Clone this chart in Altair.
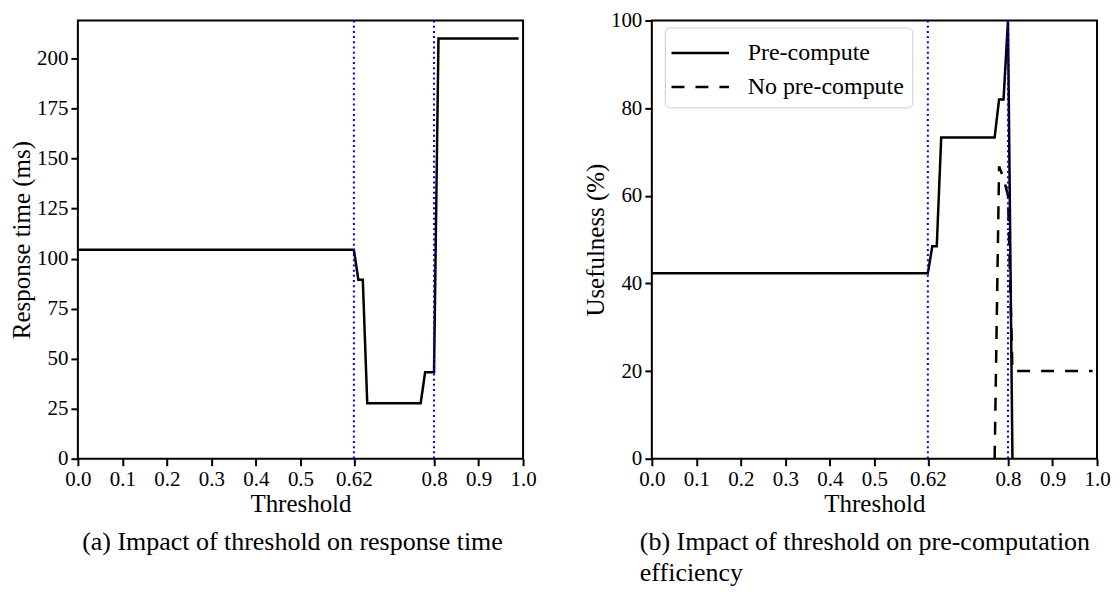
import altair as alt
import pandas as pd

FONT = "Liberation Serif"

# ---- data ----
# (a) response time vs threshold
rt_threshold = [0.0, 0.62, 0.63, 0.64, 0.65, 0.77, 0.78, 0.80, 0.81, 0.99]
rt_ms = [104.4, 104.4, 89.4, 89.4, 27.7, 27.7, 43.2, 43.2, 210.0, 210.0]

# (b) usefulness vs threshold
pre_threshold = [0.0, 0.62, 0.63, 0.64, 0.65, 0.77, 0.78, 0.79, 0.80, 0.81]
pre_usefulness = [42.3, 42.3, 48.5, 48.5, 73.3, 73.3, 82.0, 82.0, 100.0, 0.0]
nopre_threshold = [0.77, 0.78, 0.79, 0.80, 0.81, 0.99]
nopre_usefulness = [0.0, 66.7, 64.0, 60.0, 20.0, 20.0]

series_names = ["Pre-compute", "No pre-compute"]
marker_thresholds = [0.62, 0.8]

x_ticks = [0.0, 0.1, 0.2, 0.3, 0.4, 0.5, 0.62, 0.8, 0.9, 1.0]
rt_ticks = [0, 25, 50, 75, 100, 125, 150, 175, 200]
use_ticks = [0, 20, 40, 60, 80, 100]

caption_a = "(a) Impact of threshold on response time"
caption_b = ["(b) Impact of threshold on pre-computation", "efficiency"]

# ---- tables ----
rt_df = pd.DataFrame({"threshold": rt_threshold, "value": rt_ms})
use_df = pd.concat([
    pd.DataFrame({"threshold": pre_threshold, "value": pre_usefulness,
                  "series": series_names[0]}),
    pd.DataFrame({"threshold": nopre_threshold, "value": nopre_usefulness,
                  "series": series_names[1]}),
], ignore_index=True)
marker_df = pd.DataFrame({"threshold": marker_thresholds})

W, H = 446, 439

label_expr = "datum.value == 0.62 ? '0.62' : format(datum.value, '.1f')"

def x_enc():
    return alt.X("threshold:Q",
                  scale=alt.Scale(domain=[0, 1], nice=False, zero=False),
                  axis=alt.Axis(values=x_ticks, labelExpr=label_expr,
                                title="Threshold"))

def markers():
    return alt.Chart(marker_df).mark_rule(
        color="#0000ff", strokeDash=[2, 3.2], strokeWidth=2
    ).encode(x=alt.X("threshold:Q"))

# (a)
left_line = alt.Chart(rt_df).mark_line(color="black", strokeWidth=2.5).encode(
    x=x_enc(),
    y=alt.Y("value:Q", scale=alt.Scale(domain=[0, 219], nice=False),
            axis=alt.Axis(values=rt_ticks, title="Response time (ms)")),
)
left = alt.layer(left_line, markers()).properties(
    width=W, height=H,
    title=alt.TitleParams(text=caption_a, orient="bottom", anchor="middle",
                          frame="group", font=FONT, fontSize=26,
                          fontWeight="normal", color="black", offset=12,
                          dx=-8),
)

# (b)
right_line = alt.Chart(use_df).mark_line(color="black", strokeWidth=2.5).encode(
    x=x_enc(),
    y=alt.Y("value:Q", scale=alt.Scale(domain=[0, 100], nice=False),
            axis=alt.Axis(values=use_ticks, title="Usefulness (%)")),
    strokeDash=alt.StrokeDash(
        "series:N",
        scale=alt.Scale(domain=series_names, range=[[1, 0], [13, 11]]),
        legend=alt.Legend(title=None, orient="none", legendX=13, legendY=7,
                          padding=8, symbolType="M-1.8,0H1.8",
                          symbolSize=1024, symbolStrokeWidth=2.5,
                          symbolStrokeColor="black", symbolOffset=10,
                          labelOffset=30, labelFont=FONT, labelFontSize=24,
                          labelColor="black", rowPadding=4,
                          strokeColor="#cccccc", fillColor="white",
                          cornerRadius=5),
    ),
    detail="series:N",
)
right = alt.layer(right_line, markers()).properties(
    width=W, height=H,
    title=alt.TitleParams(text=caption_b, orient="bottom", anchor="start",
                          frame="group", font=FONT, fontSize=26,
                          fontWeight="normal", color="black", offset=12,
                          dx=-12, lineHeight=32),
).resolve_legend(strokeDash="independent")

chart = alt.hconcat(left, right, spacing=44).resolve_legend(
    strokeDash="independent"
).resolve_scale(
    strokeDash="independent"
).properties(
    padding={"left": 0, "top": 0, "right": 0, "bottom": 0},
    background="white",
).configure_view(
    stroke="black", strokeWidth=2
).configure_axis(
    grid=False, domain=False, labelFlush=False,
    ticks=True, tickColor="black", tickWidth=2, tickSize=7,
    labelFont=FONT, labelFontSize=21, labelColor="black", labelPadding=3,
    titleFont=FONT, titleFontSize=25, titleFontWeight="normal",
    titleColor="black", titlePadding=2,
)

chart.save("out.html", embed_options={"renderer": "svg", "actions": False})
